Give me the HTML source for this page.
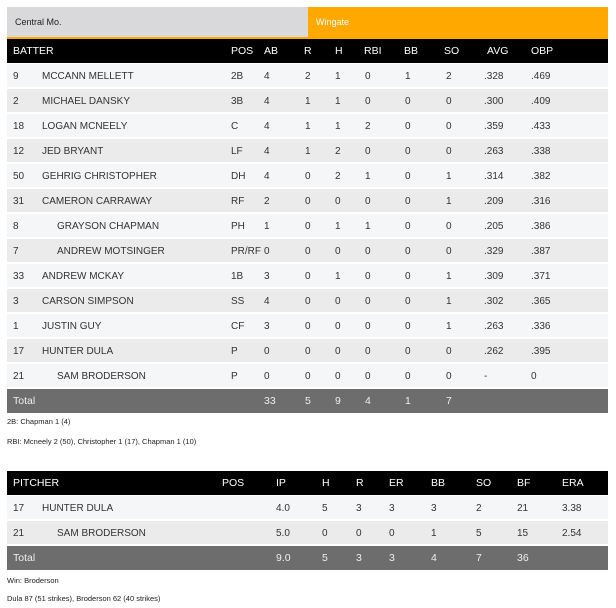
<!DOCTYPE html>
<html><head><style>
body{margin:0;width:616px;height:608px;background:#fff;font-family:"Liberation Sans",sans-serif;position:relative;overflow:hidden;color:#333}
.a{position:absolute}
.row{position:absolute;left:7px;width:601px;height:23px;font-size:10px;line-height:25px}
.row span{position:absolute;white-space:nowrap}
.o{background:#f5f6f7}.e{background:#ebebec}
.hd{background:#000;color:#fff;height:24px;line-height:25px;font-size:10.5px}
.tot{background:#6d6d6d;color:#eee;height:24px;line-height:25px;font-size:10.5px}
.note{position:absolute;left:7px;font-size:7.5px;color:#222}
</style></head><body>
<div class="a" style="left:7px;top:7px;width:301px;height:30px;background:#d9d9db;font-size:9px;line-height:31px;color:#222"><span style="margin-left:8px">Central Mo.</span></div>
<div class="a" style="left:308px;top:7px;width:300px;height:30px;background:#fea800;font-size:9px;line-height:31px;color:#fff"><span style="margin-left:8px">Wingate</span></div>
<div class="a" style="left:7px;top:37px;width:601px;height:3px;background:#fea800"></div>
<div class="note" style="top:417px">2B: Chapman 1 (4)</div>
<div class="note" style="top:437px">RBI: Mcneely 2 (50), Christopher 1 (17), Chapman 1 (10)</div>
<div class="note" style="top:576px">Win: Broderson</div>
<div class="note" style="top:594px">Dula 87 (51 strikes), Broderson 62 (40 strikes)</div>
<script>
function mk(top,cls,xs,vals,h){
 var d=document.createElement('div');d.className='row '+cls;d.style.top=top+'px';if(h)d.style.height=h+'px';
 vals.forEach(function(v,i){var s=document.createElement('span');s.style.left=(xs[i]-7)+'px';s.textContent=v;d.appendChild(s);});
 document.body.appendChild(d);
}
var bx=[13,42,231,264,305,335,365,405,446,484,531];
mk(39,'hd',[13,231,264,304,335,364,404,444,487,531],['BATTER','POS','AB','R','H','RBI','BB','SO','AVG','OBP'],24);
var B=[
['9','MCCANN MELLETT','2B','4','2','1','0','1','2','.328','.469'],
['2','MICHAEL DANSKY','3B','4','1','1','0','0','0','.300','.409'],
['18','LOGAN MCNEELY','C','4','1','1','2','0','0','.359','.433'],
['12','JED BRYANT','LF','4','1','2','0','0','0','.263','.338'],
['50','GEHRIG CHRISTOPHER','DH','4','0','2','1','0','1','.314','.382'],
['31','CAMERON CARRAWAY','RF','2','0','0','0','0','1','.209','.316'],
['8','   GRAYSON CHAPMAN','PH','1','0','1','1','0','0','.205','.386'],
['7','   ANDREW MOTSINGER','PR/RF','0','0','0','0','0','0','.329','.387'],
['33','ANDREW MCKAY','1B','3','0','1','0','0','1','.309','.371'],
['3','CARSON SIMPSON','SS','4','0','0','0','0','1','.302','.365'],
['1','JUSTIN GUY','CF','3','0','0','0','0','1','.263','.336'],
['17','HUNTER DULA','P','0','0','0','0','0','0','.262','.395'],
['21','   SAM BRODERSON','P','0','0','0','0','0','0','-','0']];
B.forEach(function(r,i){var xs=bx.slice();if(r[1].indexOf('   ')==0){xs[1]=57;r[1]=r[1].trim();}mk(64+i*25,i%2?'e':'o',xs,r);});
mk(389,'tot',[13,264,305,335,365,405,446],['Total','33','5','9','4','1','7'],24);
var px=[13,42,222,276,322,356,389,431,476,517,562];
mk(471,'hd',[13,222,276,322,356,389,431,476,517,562],['PITCHER','POS','IP','H','R','ER','BB','SO','BF','ERA'],24);
mk(496,'o',px,['17','HUNTER DULA','','4.0','5','3','3','3','2','21','3.38']);
var p2=px.slice();p2[1]=57;
mk(521,'e',p2,['21','SAM BRODERSON','','5.0','0','0','0','1','5','15','2.54']);
mk(546,'tot',[13,276,322,356,389,431,476,517],['Total','9.0','5','3','3','4','7','36'],24);
</script>
</body></html>
